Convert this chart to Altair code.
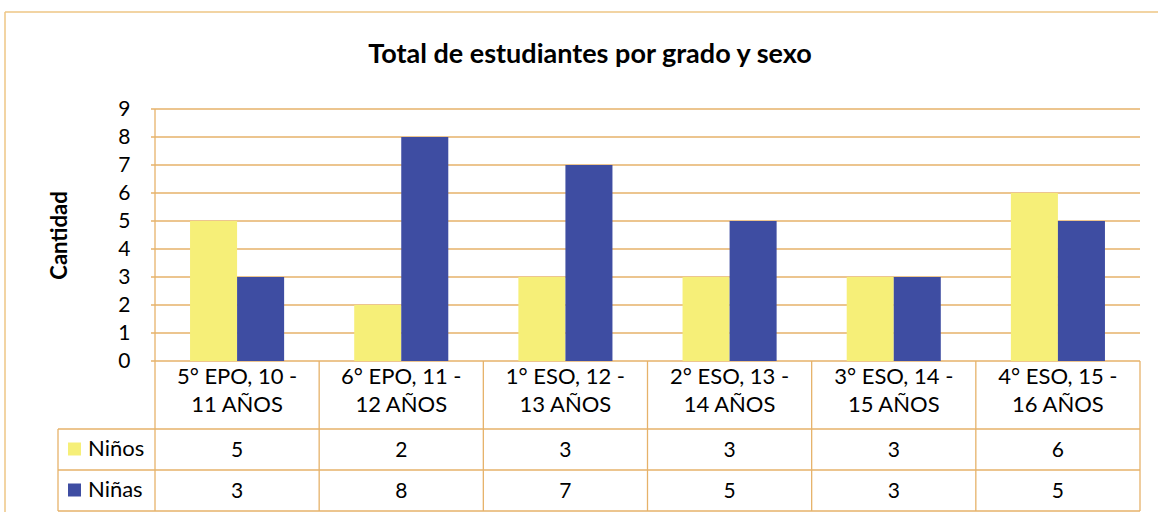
import altair as alt
import pandas as pd

# ---- data ----
grados = [
    "5° EPO, 10 - 11 AÑOS",
    "6° EPO, 11 - 12 AÑOS",
    "1° ESO, 12 - 13 AÑOS",
    "2° ESO, 13 - 14 AÑOS",
    "3° ESO, 14 - 15 AÑOS",
    "4° ESO, 15 - 16 AÑOS",
]
sexos = ["Niños", "Niñas"]
ninos = [5, 2, 3, 3, 3, 6]
ninas = [3, 8, 7, 5, 3, 5]
y_ticks = [0, 1, 2, 3, 4, 5, 6, 7, 8, 9]
titulo = "Total de estudiantes por grado y sexo"
eje_y = "Cantidad"

# ---- styles ----
colores = ["#F6EF78", "#3E4DA2"]
ORANGE = "#E6B26A"
FRAME = "#EEC684"
FONT = "Lato"
W, H = 985, 252          # plot area used by the bars
W_VIEW = W + 18          # view extends to the page edge so the frame reaches it
HEADER_H, ROW_H = 68, 41
LEFT_COL = 97
PAD_BOTTOM = 151
TABLE_BOTTOM = H + HEADER_H + 2 * ROW_H

rows = []
for g, a, b in zip(grados, ninos, ninas):
    rows.append({"grado": g, "sexo": "Niños", "valor": a})
    rows.append({"grado": g, "sexo": "Niñas", "valor": b})
df = pd.DataFrame(rows)
df_cat = pd.DataFrame({"grado": grados,
                       "etiqueta": [g.replace(" - ", " -\n") for g in grados]})
df_ticks = pd.DataFrame({"v": y_ticks})
one = pd.DataFrame({"k": [0]})

color_scale = alt.Scale(domain=sexos, range=colores)
x_scale = alt.Scale(domain=grados, range=[0, W], paddingInner=0, paddingOuter=0)
y_scale = alt.Scale(domain=[0, 9], nice=False)
y_axis = alt.Axis(values=y_ticks, title=eje_y, titleFontSize=22, titleFont=FONT,
                  titleFontWeight="bold", titleColor="black", titlePadding=46,
                  labelFont=FONT, labelFontSize=21, labelColor="black",
                  labelPadding=25, ticks=False, domain=False, grid=False)


def xcat(**kw):
    return alt.X("grado:N", sort=grados, scale=x_scale, axis=None, **kw)


def line(**enc):
    return alt.Chart(one).mark_rule(color=ORANGE, strokeWidth=1.3).encode(**enc)


# outer frame (cut by the page edges on the right and bottom)
frame_top = alt.Chart(one).mark_rule(color=FRAME, strokeWidth=1.5).encode(
    x=alt.value(-150), x2=alt.value(W_VIEW + 5), y=alt.value(-97))
frame_left = alt.Chart(one).mark_rule(color=FRAME, strokeWidth=1.5).encode(
    x=alt.value(-150), y=alt.value(-97), y2=alt.value(H + PAD_BOTTOM))

# horizontal gridlines and small y ticks, through the y scale
grid = alt.Chart(df_ticks).mark_rule(color=ORANGE, strokeWidth=1.3).encode(
    y=alt.Y("v:Q", scale=y_scale, axis=y_axis), x=alt.value(-4), x2=alt.value(W))

bars = alt.Chart(df).mark_bar().encode(
    x=alt.X("grado:N", sort=grados, scale=x_scale, axis=None),
    xOffset=alt.XOffset("sexo:N", sort=sexos,
                        scale=alt.Scale(domain=sexos, paddingInner=0, paddingOuter=0.745)),
    y=alt.Y("valor:Q", scale=y_scale, axis=y_axis),
    color=alt.Color("sexo:N", scale=color_scale, legend=None),
)

# y axis line down through the table, vertical separators at band edges
y_axis_line = line(x=alt.value(0), y=alt.value(0), y2=alt.value(TABLE_BOTTOM))
seps = alt.Chart(df_cat).mark_rule(color=ORANGE, strokeWidth=1.3).encode(
    x=xcat(bandPosition=1), y=alt.value(H), y2=alt.value(TABLE_BOTTOM))

cat_labels = alt.Chart(df_cat).mark_text(
    font=FONT, fontSize=22, color="black", lineBreak="\n", lineHeight=28,
    baseline="alphabetic", align="center"
).encode(x=xcat(), y=alt.value(275), text="etiqueta:N")

layers = [frame_top, frame_left, grid, bars, y_axis_line, seps, cat_labels]

# table lines
for i in range(3):
    yy = H + HEADER_H + ROW_H * i
    layers.append(line(x=alt.value(-LEFT_COL), x2=alt.value(W), y=alt.value(yy)))
layers.append(line(x=alt.value(-LEFT_COL), y=alt.value(H + HEADER_H), y2=alt.value(TABLE_BOTTOM)))

for i, s in enumerate(sexos):
    top = H + HEADER_H + ROW_H * i
    base = top + 28
    sub = df[df["sexo"] == s]
    layers.append(alt.Chart(sub).mark_text(
        font=FONT, fontSize=21, color="black", baseline="alphabetic", align="center"
    ).encode(x=xcat(), y=alt.value(base), text="valor:Q"))
    leg = pd.DataFrame({"sexo": [s]})
    layers.append(alt.Chart(leg).mark_square(size=169, opacity=1, filled=True).encode(
        x=alt.value(-80.5), y=alt.value(top + 20),
        color=alt.Color("sexo:N", scale=color_scale, legend=None),
    ))
    layers.append(alt.Chart(leg).mark_text(
        font=FONT, fontSize=22, color="black", baseline="alphabetic", align="left"
    ).encode(x=alt.value(-67), y=alt.value(base - 1), text="sexo:N"))

title_df = pd.DataFrame({"t": [titulo]})
layers.append(alt.Chart(title_df).mark_text(
    font=FONT, fontSize=27, fontWeight="bold", color="black",
    baseline="alphabetic", align="center"
).encode(x=alt.value(435), y=alt.value(-46), text="t:N"))

chart = alt.layer(*layers).properties(
    width=W_VIEW, height=H,
    autosize=alt.AutoSizeParams(type="none"),
    padding={"left": 155, "top": 109, "right": 0, "bottom": PAD_BOTTOM},
    background="white",
).configure_view(strokeWidth=0)

chart.save("out.html", embed_options={"renderer": "svg", "actions": False})
